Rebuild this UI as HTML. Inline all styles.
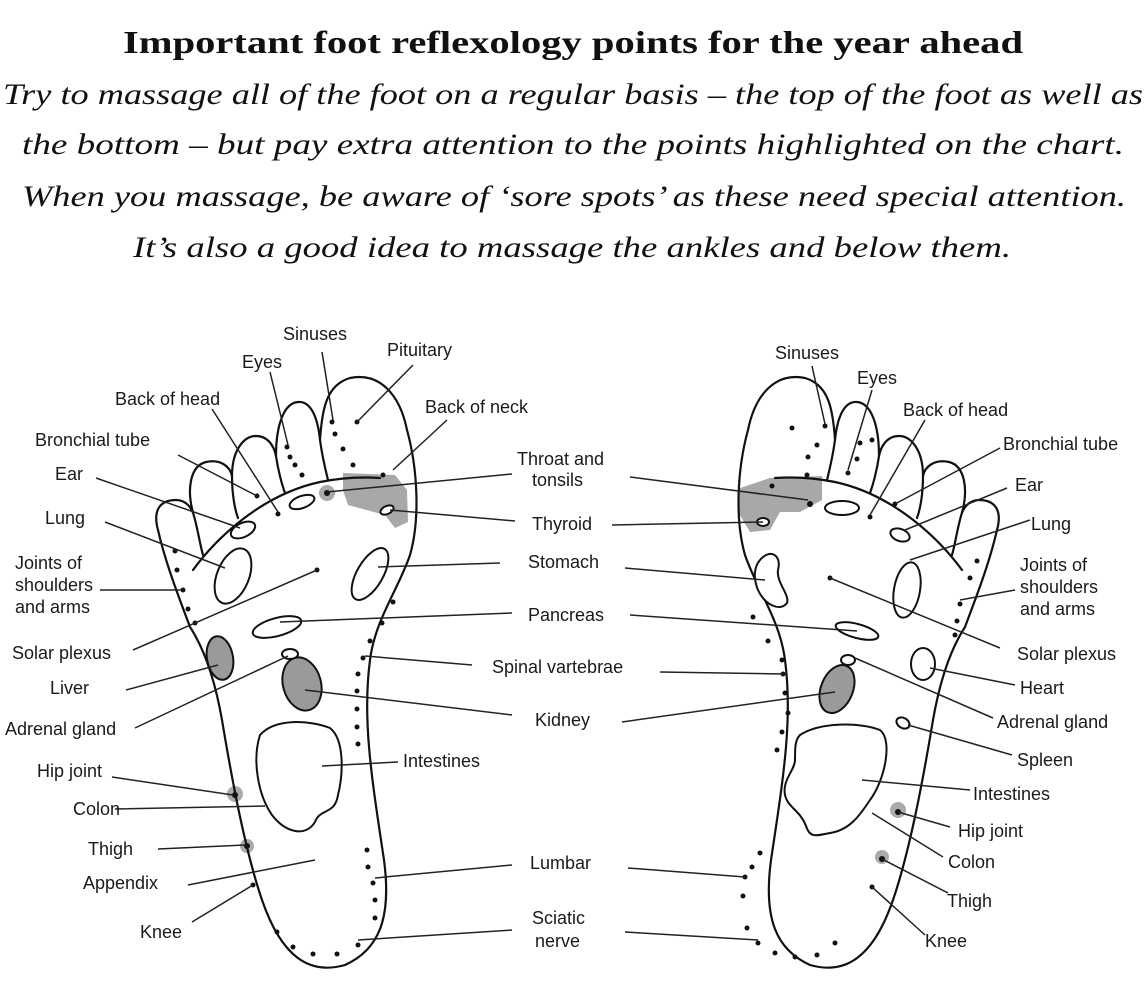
<!DOCTYPE html>
<html><head><meta charset="utf-8"><style>
html,body{margin:0;padding:0;background:#fff;}
svg{display:block;}
.t{font-family:"Liberation Serif",serif;fill:#111;}
.l{font-family:"Liberation Sans",sans-serif;font-size:18px;fill:#1a1a1a;}
.o{fill:none;stroke:#111;stroke-width:2.2;stroke-linejoin:round;stroke-linecap:round;}
.ln{stroke:#222;stroke-width:1.5;fill:none;}
.d{fill:#111;}
.sh{fill:#9a9a9a;stroke:#111;stroke-width:2;}
.f{fill:#fff;stroke:#111;stroke-width:2;}
</style></head><body>
<svg width="1146" height="994" viewBox="0 0 1146 994" xmlns="http://www.w3.org/2000/svg">
<rect width="1146" height="994" fill="#fff"/>
<text class="t" x="123" y="53" font-size="32" font-weight="bold" textLength="900" lengthAdjust="spacingAndGlyphs">Important foot reflexology points for the year ahead</text>
<g class="t" font-style="italic" font-size="30">
<text x="3" y="104" textLength="1140" lengthAdjust="spacingAndGlyphs">Try to massage all of the foot on a regular basis – the top of the foot as well as</text>
<text x="22" y="154" textLength="1102" lengthAdjust="spacingAndGlyphs">the bottom – but pay extra attention to the points highlighted on the chart.</text>
<text x="22" y="206" textLength="1104" lengthAdjust="spacingAndGlyphs">When you massage, be aware of ‘sore spots’ as these need special attention.</text>
<text x="133" y="257" textLength="878" lengthAdjust="spacingAndGlyphs">It’s also a good idea to massage the ankles and below them.</text>
</g>

<!-- shaded patches -->
<path d="M343,473 L395,475 L407,490 L408,522 L395,528 L385,515 L348,505 L343,490Z" fill="#999" opacity="0.85"/>
<circle cx="327" cy="493" r="8" fill="#aaa"/>
<path d="M740,488 L770,478 L822,476 L822,500 L800,512 L780,512 L770,530 L750,532 L738,512Z" fill="#999" opacity="0.85"/>
<circle cx="235" cy="794" r="8" fill="#aaa"/><circle cx="247" cy="846" r="7" fill="#aaa"/>
<circle cx="898" cy="810" r="8" fill="#aaa"/><circle cx="882" cy="857" r="7" fill="#aaa"/>

<!-- left foot outline -->
<g id="foot">
<path class="o" d="M190,627 C180,600 166,565 158,530 C152,508 162,500 176,500 C186,500 192,508 194,516 C186,490 190,466 206,462 C220,459 230,466 232,476 C232,450 244,436 256,436 C268,436 274,446 276,456 C276,425 284,403 298,402 C312,401 318,420 320,440 C322,410 326,385 350,378 C380,372 400,395 407,430 C418,470 420,520 410,555 C398,590 375,620 370,660 C362,720 372,780 384,860 C392,920 378,950 345,965 C310,975 282,958 262,900 C245,850 232,780 222,720 C215,680 205,650 190,627 Z"/>
<path class="o" d="M193,570 C215,540 260,495 320,482 C345,477 365,477 380,478"/>
<path class="o" d="M194,516 C198,530 200,545 203,555 M232,476 C232,495 235,510 238,518 M276,456 C278,470 282,485 285,493 M320,440 C322,455 325,468 328,480"/>
</g>
<g transform="translate(1155,0) scale(-1,1)">
<use href="#foot"/>
</g>

<!-- left features -->
<g class="d">
<circle cx="332" cy="422" r="2.5"/><circle cx="335" cy="434" r="2.5"/><circle cx="343" cy="449" r="2.5"/><circle cx="353" cy="465" r="2.5"/><circle cx="383" cy="475" r="2.5"/><circle cx="357" cy="422" r="2.5"/>
<circle cx="287" cy="447" r="2.5"/><circle cx="290" cy="457" r="2.5"/><circle cx="295" cy="465" r="2.5"/><circle cx="302" cy="475" r="2.5"/>
<circle cx="278" cy="514" r="2.5"/><circle cx="257" cy="496" r="2.5"/><circle cx="327" cy="493" r="3"/>
<circle cx="317" cy="570" r="2.5"/><circle cx="253" cy="885" r="2.5"/><circle cx="235" cy="795" r="3"/><circle cx="247" cy="846" r="3"/>
<circle cx="175" cy="551" r="2.5"/><circle cx="177" cy="570" r="2.5"/><circle cx="183" cy="590" r="2.5"/><circle cx="188" cy="609" r="2.5"/><circle cx="195" cy="623" r="2.5"/>
<circle cx="393" cy="602" r="2.5"/><circle cx="382" cy="623" r="2.5"/><circle cx="370" cy="641" r="2.5"/><circle cx="363" cy="658" r="2.5"/><circle cx="358" cy="674" r="2.5"/><circle cx="357" cy="691" r="2.5"/><circle cx="357" cy="709" r="2.5"/><circle cx="357" cy="727" r="2.5"/><circle cx="358" cy="744" r="2.5"/>
<circle cx="367" cy="850" r="2.5"/><circle cx="368" cy="867" r="2.5"/><circle cx="373" cy="883" r="2.5"/><circle cx="375" cy="900" r="2.5"/><circle cx="375" cy="918" r="2.5"/>
<circle cx="277" cy="932" r="2.5"/><circle cx="293" cy="947" r="2.5"/><circle cx="313" cy="954" r="2.5"/><circle cx="337" cy="954" r="2.5"/><circle cx="358" cy="945" r="2.5"/>
</g>
<ellipse class="f" cx="302" cy="502" rx="13" ry="6" transform="rotate(-20 302 502)"/>
<ellipse class="f" cx="243" cy="530" rx="13" ry="7" transform="rotate(-25 243 530)"/>
<ellipse class="f" cx="233" cy="576" rx="16" ry="29" transform="rotate(22 233 576)"/>
<ellipse class="f" cx="387" cy="510" rx="7" ry="4" transform="rotate(-25 387 510)"/>
<ellipse class="f" cx="370" cy="574" rx="13" ry="29" transform="rotate(30 370 574)"/>
<ellipse class="f" cx="277" cy="627" rx="25" ry="9" transform="rotate(-15 277 627)"/>
<ellipse class="sh" cx="220" cy="658" rx="13" ry="22" transform="rotate(-10 220 658)"/>
<ellipse class="f" cx="290" cy="654" rx="8" ry="5"/>
<ellipse class="sh" cx="302" cy="684" rx="19" ry="27" transform="rotate(-15 302 684)"/>
<path class="f" d="M260,735 C275,718 310,720 330,728 C345,740 343,775 338,795 C335,815 320,808 315,822 C305,838 285,832 272,815 C258,795 252,760 260,735Z"/>

<!-- right features -->
<g class="d">
<circle cx="825" cy="426" r="2.5"/><circle cx="817" cy="445" r="2.5"/><circle cx="808" cy="457" r="2.5"/><circle cx="807" cy="475" r="2.5"/><circle cx="792" cy="428" r="2.5"/><circle cx="772" cy="486" r="2.5"/><circle cx="810" cy="504" r="3"/>
<circle cx="857" cy="459" r="2.5"/><circle cx="860" cy="443" r="2.5"/><circle cx="848" cy="473" r="2.5"/><circle cx="872" cy="440" r="2.5"/>
<circle cx="870" cy="517" r="2.5"/><circle cx="895" cy="504" r="2.5"/><circle cx="830" cy="578" r="2.5"/>
<circle cx="898" cy="812" r="3"/><circle cx="882" cy="859" r="3"/><circle cx="872" cy="887" r="2.5"/>
<circle cx="977" cy="561" r="2.5"/><circle cx="970" cy="578" r="2.5"/><circle cx="960" cy="604" r="2.5"/><circle cx="957" cy="621" r="2.5"/><circle cx="955" cy="635" r="2.5"/>
<circle cx="753" cy="617" r="2.5"/><circle cx="768" cy="641" r="2.5"/><circle cx="782" cy="660" r="2.5"/><circle cx="783" cy="674" r="2.5"/><circle cx="785" cy="693" r="2.5"/><circle cx="788" cy="713" r="2.5"/><circle cx="782" cy="732" r="2.5"/><circle cx="777" cy="750" r="2.5"/>
<circle cx="760" cy="853" r="2.5"/><circle cx="752" cy="867" r="2.5"/><circle cx="745" cy="877" r="2.5"/><circle cx="743" cy="896" r="2.5"/>
<circle cx="747" cy="928" r="2.5"/><circle cx="758" cy="943" r="2.5"/><circle cx="775" cy="953" r="2.5"/><circle cx="795" cy="957" r="2.5"/><circle cx="817" cy="955" r="2.5"/><circle cx="835" cy="943" r="2.5"/>
</g>
<ellipse class="f" cx="763" cy="522" rx="6" ry="4"/>
<ellipse class="f" cx="842" cy="508" rx="17" ry="7"/>
<ellipse class="f" cx="900" cy="535" rx="10" ry="6" transform="rotate(20 900 535)"/>
<ellipse class="f" cx="907" cy="590" rx="13" ry="28" transform="rotate(10 907 590)"/>
<path class="f" d="M760,560 C770,548 782,555 778,570 C776,582 790,595 787,603 C780,612 765,605 758,590 C753,578 754,567 760,560Z"/>
<ellipse class="f" cx="857" cy="631" rx="22" ry="7" transform="rotate(15 857 631)"/>
<ellipse class="f" cx="848" cy="660" rx="7" ry="5"/>
<ellipse class="sh" cx="837" cy="689" rx="16" ry="25" transform="rotate(22 837 689)"/>
<ellipse class="f" cx="923" cy="664" rx="12" ry="16"/>
<ellipse class="f" cx="903" cy="723" rx="7" ry="5" transform="rotate(30 903 723)"/>
<path class="f" d="M800,735 C820,722 860,722 880,730 C893,740 885,780 870,800 C860,815 850,830 830,833 C815,836 810,838 806,826 C800,810 788,808 785,795 C782,780 795,770 795,760 C795,748 795,740 800,735Z"/>

<!-- leader lines -->
<g class="ln">
<path d="M322,352 L333,420 M270,372 L288,445 M413,365 L357,422 M212,409 L278,512 M447,420 L393,470 M178,455 L257,496 M96,478 L240,528 M105,522 L225,568 M100,590 L183,590 M133,650 L317,570 M126,690 L218,665 M135,728 L288,656 M112,777 L233,795 M115,809 L265,806 M158,849 L245,845 M188,885 L315,860 M192,922 L253,885"/>
<path d="M512,474 L327,492 M515,521 L390,510 M500,563 L378,567 M512,613 L280,622 M472,665 L365,656 M512,715 L305,690 M398,762 L322,766 M512,865 L375,878 M512,930 L358,940"/>
<path d="M630,477 L808,500 M612,525 L763,522 M625,568 L765,580 M630,615 L857,631 M660,672 L783,674 M622,722 L835,692 M628,868 L745,877 M625,932 L758,940"/>
<path d="M812,366 L825,424 M872,390 L848,470 M925,420 L870,515 M1000,448 L895,504 M1007,488 L905,530 M1030,520 L910,560 M1015,590 L960,600 M1000,648 L830,578 M1015,685 L930,668 M993,718 L855,658 M1012,755 L908,725 M970,790 L862,780 M950,827 L898,812 M943,857 L872,813 M948,893 L882,859 M925,935 L872,887"/>
</g>

<!-- labels -->
<g class="l">
<text x="283" y="340">Sinuses</text>
<text x="242" y="368">Eyes</text>
<text x="387" y="356">Pituitary</text>
<text x="115" y="405">Back of head</text>
<text x="425" y="413">Back of neck</text>
<text x="35" y="446">Bronchial tube</text>
<text x="55" y="480">Ear</text>
<text x="45" y="524">Lung</text>
<text x="15" y="569">Joints of</text>
<text x="15" y="591">shoulders</text>
<text x="15" y="613">and arms</text>
<text x="12" y="659">Solar plexus</text>
<text x="50" y="694">Liver</text>
<text x="5" y="735">Adrenal gland</text>
<text x="37" y="777">Hip joint</text>
<text x="73" y="815">Colon</text>
<text x="88" y="855">Thigh</text>
<text x="83" y="889">Appendix</text>
<text x="140" y="938">Knee</text>

<text x="517" y="465">Throat and</text>
<text x="532" y="486">tonsils</text>
<text x="532" y="530">Thyroid</text>
<text x="528" y="568">Stomach</text>
<text x="528" y="621">Pancreas</text>
<text x="492" y="673">Spinal vartebrae</text>
<text x="535" y="726">Kidney</text>
<text x="403" y="767">Intestines</text>
<text x="530" y="869">Lumbar</text>
<text x="532" y="924">Sciatic</text>
<text x="535" y="947">nerve</text>

<text x="775" y="359">Sinuses</text>
<text x="857" y="384">Eyes</text>
<text x="903" y="416">Back of head</text>
<text x="1003" y="450">Bronchial tube</text>
<text x="1015" y="491">Ear</text>
<text x="1031" y="530">Lung</text>
<text x="1020" y="571">Joints of</text>
<text x="1020" y="593">shoulders</text>
<text x="1020" y="615">and arms</text>
<text x="1017" y="660">Solar plexus</text>
<text x="1020" y="694">Heart</text>
<text x="997" y="728">Adrenal gland</text>
<text x="1017" y="766">Spleen</text>
<text x="973" y="800">Intestines</text>
<text x="958" y="837">Hip joint</text>
<text x="948" y="868">Colon</text>
<text x="947" y="907">Thigh</text>
<text x="925" y="947">Knee</text>
</g>
</svg>
</body></html>
